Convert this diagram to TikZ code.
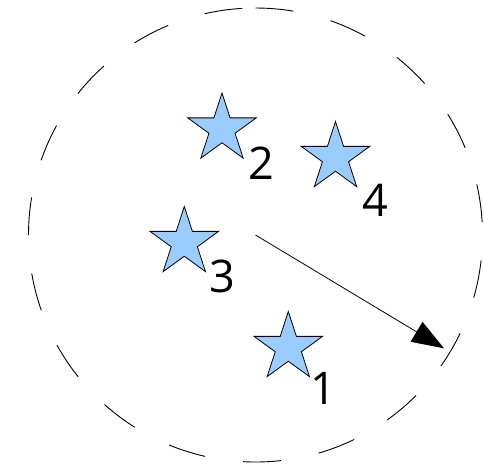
\documentclass[tikz,border=0pt]{standalone}
\usepackage{fontspec}
\setmainfont{Open Sans}
\usetikzlibrary{shapes.geometric,arrows.meta}
\definecolor{starblue}{HTML}{99CCFF}
\tikzset{
  starnode/.style={star, star points=5, star point ratio=2.618, minimum size=72pt,
    inner sep=0pt, draw=black, line width=0.8pt, fill=starblue},
  numlabel/.style={inner sep=0pt, font=\fontsize{45}{45}\selectfont},
  bigcircle/.style={draw=black, line width=0.9pt, dash pattern=on 38pt off 38.4pt},
  radiusarrow/.style={draw=black, line width=0.8pt, -{Triangle[length=32pt,width=23pt]}}
}
\begin{document}
\begin{tikzpicture}[x=1pt,y=-1pt]
\useasboundingbox (0,0) rectangle (484,464);
\coordinate (c) at (255.5,235);
\draw[bigcircle] (c) ++(0,-227) arc[start angle=90, end angle=-270, radius=227pt];
\node[starnode] (s2) at (222,129) {};
\node[starnode] (s4) at (335.5,157.5) {};
\node[starnode] (s3) at (184.3,242.5) {};
\node[starnode] (s1) at (288.3,347.5) {};
\node[numlabel] (l2) at (261,163) {2};
\node[numlabel] (l4) at (375,200) {4};
\node[numlabel] (l3) at (222,276) {3};
\node[numlabel] (l1) at (323,388) {1};
\coordinate (tip) at (444,348.3);
\draw[radiusarrow] (c) -- (tip);
\end{tikzpicture}
\end{document}
